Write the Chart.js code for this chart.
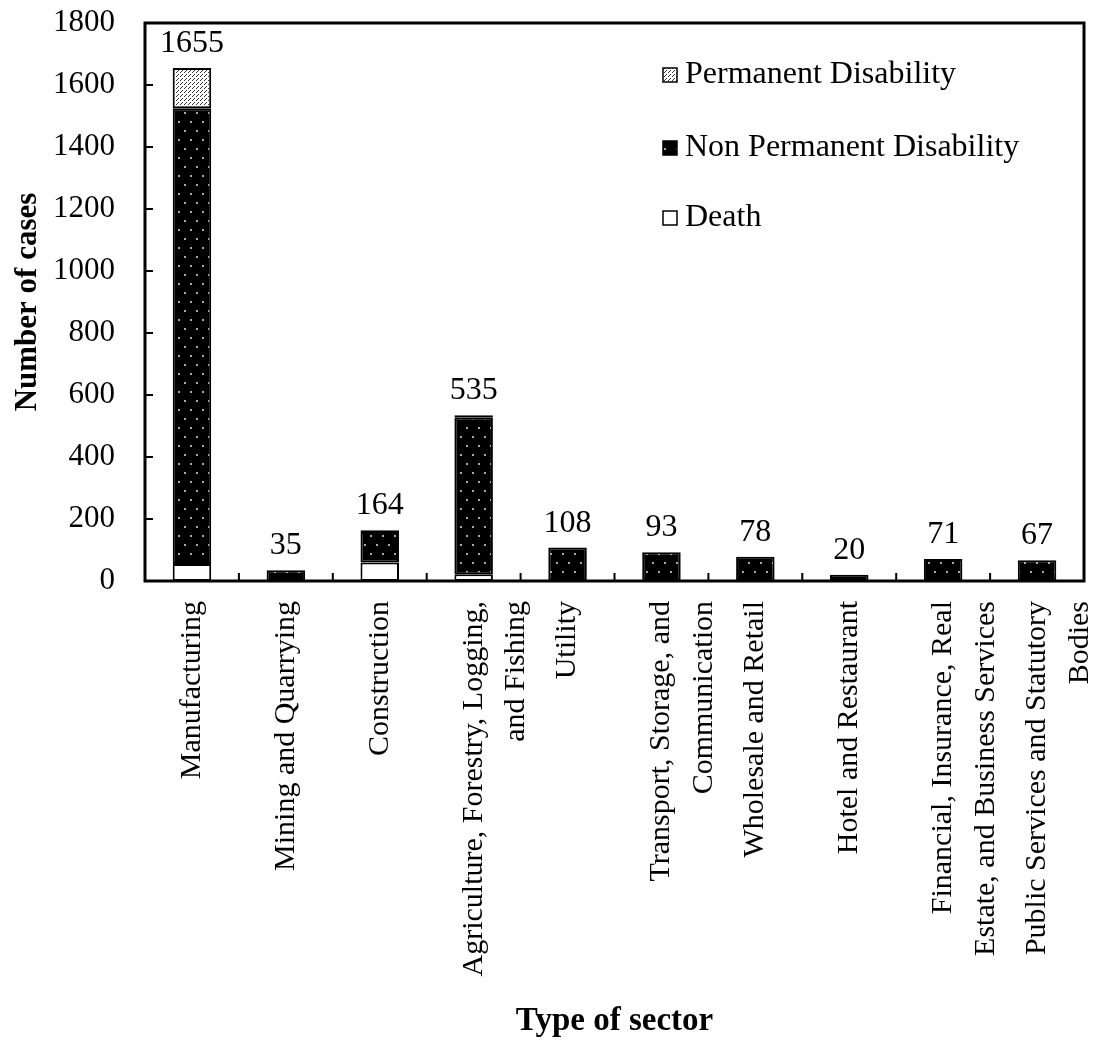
<!DOCTYPE html>
<html>
<head>
<meta charset="utf-8">
<style>
  html, body { margin: 0; padding: 0; background: #fff; }
</style>
<script src="https://cdn.jsdelivr.net/npm/chart.js@4.4.1/dist/chart.umd.min.js"></script>
</head>
<body>
<canvas id="chart" width="1101" height="1046"></canvas>
<script>
// === Dati ===
const sectors = [
  "Manufacturing",
  "Mining and Quarrying",
  "Construction",
  ["Agriculture, Forestry, Logging,", "and Fishing"],
  "Utility",
  ["Transport, Storage, and", "Communication"],
  "Wholesale and Retail",
  "Hotel and Restaurant",
  ["Financial, Insurance, Real", "Estate, and Business Services"],
  ["Public Services and Statutory", "Bodies"]
];
const totals = [1655, 35, 164, 535, 108, 93, 78, 20, 71, 67];
const death = [55, 0, 60, 22, 0, 0, 0, 0, 0, 0];
const nonPermanent = [1470, 35, 98, 505, 108, 93, 78, 20, 71, 67];
const permanent = [130, 0, 6, 8, 0, 0, 0, 0, 0, 0];
const yTicks = [0, 200, 400, 600, 800, 1000, 1200, 1400, 1600, 1800];

const SERIF = "'Liberation Serif', 'Times New Roman', serif";
const canvas = document.getElementById("chart");
const ctx = canvas.getContext("2d");

// riempimenti a puntini come nell'originale
function makePattern(w, h, bg, dotColor, dots, size) {
  const c = document.createElement("canvas");
  c.width = w; c.height = h;
  const g = c.getContext("2d");
  g.fillStyle = bg;
  g.fillRect(0, 0, w, h);
  g.fillStyle = dotColor;
  dots.forEach(d => g.fillRect(d[0], d[1], size, size));
  return ctx.createPattern(c, "repeat");
}
const darkDots = makePattern(12, 18, "#000", "#a8a8a8", [[4, 4], [10, 13]], 2);
const greyStipple = makePattern(4, 4, "#fff", "#333", [[0, 0], [2, 2], [1, 3]], 1);

// azzera i margini extra che Chart.js aggiunge per le etichette
function noScalePadding(s) {
  s.paddingTop = 0;
  s.paddingBottom = 0;
  s.paddingLeft = 0;
  s.paddingRight = 0;
}

// === Plugin: cornice, tacche interne, totali e legenda ===
const frameAndMarks = {
  id: "frameAndMarks",
  afterDatasetsDraw(chart) {
    const { ctx, chartArea: a, scales: { x, y } } = chart;
    ctx.save();
    ctx.strokeStyle = "#000";
    ctx.lineWidth = 2;
    yTicks.forEach(v => {
      const py = y.getPixelForValue(v);
      ctx.beginPath();
      ctx.moveTo(a.left, py);
      ctx.lineTo(a.left + 8, py);
      ctx.stroke();
    });
    for (let i = 1; i < sectors.length; i++) {
      const px = (x.getPixelForValue(i - 1) + x.getPixelForValue(i)) / 2;
      ctx.beginPath();
      ctx.moveTo(px, a.bottom);
      ctx.lineTo(px, a.bottom - 8);
      ctx.stroke();
    }
    ctx.lineWidth = 3;
    ctx.strokeRect(a.left, a.top, a.right - a.left, a.bottom - a.top);

    // totali sopra le barre
    ctx.fillStyle = "#000";
    ctx.font = "32px " + SERIF;
    ctx.textAlign = "center";
    ctx.textBaseline = "alphabetic";
    totals.forEach((t, i) => {
      const top = y.getPixelForValue(death[i] + nonPermanent[i] + permanent[i]);
      ctx.fillText(String(t), x.getPixelForValue(i), top - 16);
    });
    ctx.restore();
  },
  afterDraw(chart) {
    const { ctx } = chart;
    const rows = chart.data.datasets.slice().reverse();
    const rowY = [75, 148, 218];
    ctx.save();
    ctx.font = "32px " + SERIF;
    ctx.textAlign = "left";
    ctx.textBaseline = "middle";
    rows.forEach((ds, i) => {
      const yy = rowY[i];
      ctx.fillStyle = ds.backgroundColor;
      ctx.fillRect(663, yy - 7, 14, 14);
      ctx.strokeStyle = "#000";
      ctx.lineWidth = 1.5;
      ctx.strokeRect(663, yy - 7, 14, 14);
      ctx.fillStyle = "#000";
      ctx.fillText(ds.label, 685, yy);
    });
    ctx.restore();
  }
};

const barStyle = {
  borderColor: "#000",
  borderWidth: 2,
  borderSkipped: false,
  barPercentage: 0.41,
  categoryPercentage: 1.0
};

new Chart(ctx, {
  type: "bar",
  data: {
    labels: sectors,
    datasets: [
      Object.assign({ label: "Death", data: death, backgroundColor: "#fff" }, barStyle),
      Object.assign({ label: "Non Permanent Disability", data: nonPermanent, backgroundColor: darkDots }, barStyle),
      Object.assign({ label: "Permanent Disability", data: permanent, backgroundColor: greyStipple }, barStyle)
    ]
  },
  options: {
    responsive: false,
    animation: false,
    layout: { padding: { top: 23, right: 17, left: 0, bottom: 0 } },
    plugins: {
      legend: { display: false },
      tooltip: { enabled: false }
    },
    scales: {
      x: {
        stacked: true,
        grid: { display: false, drawTicks: false },
        border: { display: false },
        ticks: {
          autoSkip: false,
          minRotation: 90,
          maxRotation: 90,
          padding: 20,
          color: "#000",
          font: { family: SERIF, size: 30, lineHeight: 1.43 }
        },
        title: {
          display: true,
          text: "Type of sector",
          color: "#000",
          font: { family: SERIF, size: 33, weight: "bold" },
          padding: { top: 0, bottom: 5 }
        },
        afterFit(s) { s.height = 465; noScalePadding(s); }
      },
      y: {
        stacked: true,
        min: 0,
        max: 1800,
        grid: { display: false, drawTicks: false },
        border: { display: false },
        afterBuildTicks(s) { s.ticks = yTicks.map(v => ({ value: v })); },
        ticks: {
          padding: 30,
          color: "#000",
          font: { family: SERIF, size: 31 },
          callback: v => String(v)
        },
        title: {
          display: true,
          text: "Number of cases",
          color: "#000",
          font: { family: SERIF, size: 31, weight: "bold" },
          padding: { top: 9, bottom: 0 }
        },
        afterFit(s) { s.width = 145; noScalePadding(s); }
      }
    }
  },
  plugins: [frameAndMarks]
});
</script>
</body>
</html>
